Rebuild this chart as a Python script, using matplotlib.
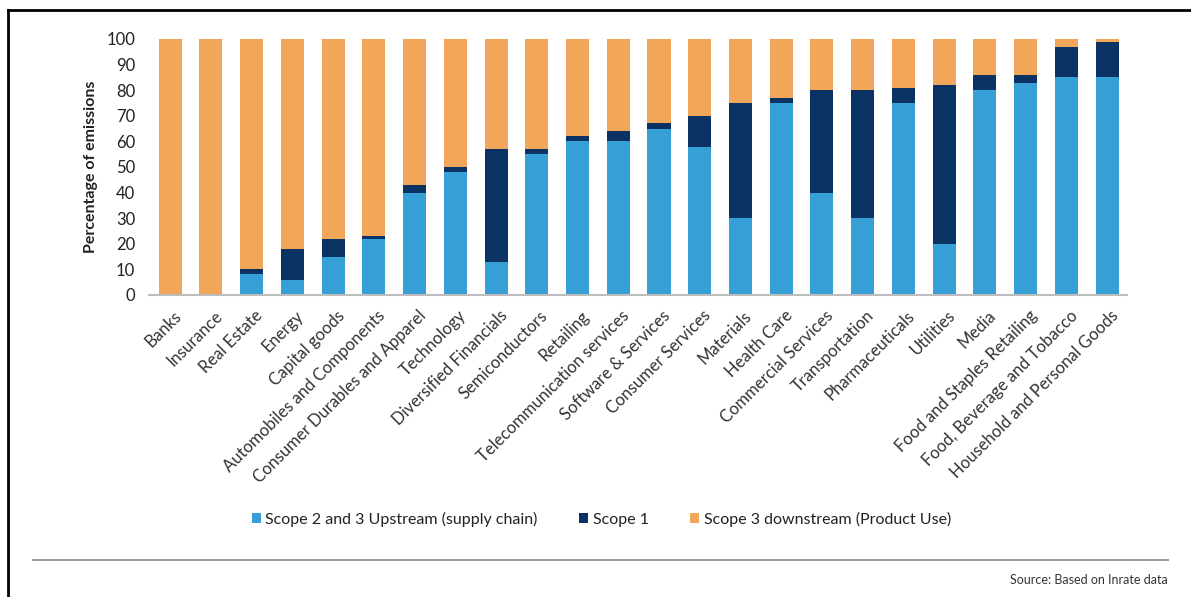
import matplotlib.pyplot as plt
import numpy as np
from matplotlib.lines import Line2D
from matplotlib.transforms import ScaledTranslation

plt.rcParams['font.family'] = ['Lato', 'DejaVu Sans']

sectors = ["Banks", "Insurance", "Real Estate", "Energy", "Capital goods",
           "Automobiles and Components", "Consumer Durables and Apparel",
           "Technology", "Diversified Financials", "Semiconductors", "Retailing",
           "Telecommunication services", "Software & Services",
           "Consumer Services", "Materials", "Health Care",
           "Commercial Services", "Transportation", "Pharmaceuticals",
           "Utilities", "Media", "Food and Staples Retailing",
           "Food, Beverage and Tobacco", "Household and Personal Goods"]
upstream = [0, 0, 8, 6, 15, 22, 40, 48, 13, 55, 60, 60, 65, 58, 30, 75, 40,
            30, 75, 20, 80, 83, 85, 85]
scope1 = [0, 0, 2, 12, 7, 1, 3, 2, 44, 2, 2, 4, 2, 12, 45, 2, 40, 50, 6, 62,
          6, 3, 12, 14]
downstream = [100 - u - s for u, s in zip(upstream, scope1)]

c_up = "#359fd6"
c_s1 = "#0a3262"
c_down = "#f2a65a"

fig = plt.figure(figsize=(11.91, 5.97), dpi=100)
ax = fig.add_axes([0.1251, 0.5059, 0.8212, 0.4288])

x = np.arange(len(sectors))
w = 0.565
ax.bar(x, upstream, w, color=c_up, label="Scope 2 and 3 Upstream (supply chain)")
ax.bar(x, scope1, w, bottom=upstream, color=c_s1, label="Scope 1")
ax.bar(x, downstream, w, bottom=np.add(upstream, scope1), color=c_down,
       label="Scope 3 downstream (Product Use)")

ax.set_xlim(-0.52, 23.49)
ax.set_ylim(0, 100)
ax.set_yticks(range(0, 101, 10))
ax.tick_params(axis='y', length=0, labelsize=12, labelcolor="#222222", pad=10)
ax.tick_params(axis='x', length=0, labelsize=12, labelcolor="#333333", pad=9)
ax.set_xticks(x)
ax.set_xticklabels(sectors, rotation=45, ha='right', rotation_mode='anchor')
shift = ScaledTranslation(3 / 100, 0, fig.dpi_scale_trans)
for lab in ax.get_xticklabels():
    lab.set_transform(lab.get_transform() + shift)
for s in ["top", "right", "left"]:
    ax.spines[s].set_visible(False)
ax.spines["bottom"].set_color("#bdbdbd")
ax.spines["bottom"].set_linewidth(1.5)
ax.set_ylabel("Percentage of emissions", fontsize=11.5, fontweight='bold',
              color="#222222", labelpad=6)

leg = fig.legend(loc='center', bbox_to_anchor=(0.505, 1 - 519 / 597), ncol=3,
                 frameon=False, fontsize=11.5, handlelength=0.55, handleheight=0.55,
                 handletextpad=0.3, columnspacing=2.6)
for t in leg.get_texts():
    t.set_color("#222222")

# separator and source
fig.add_artist(Line2D([33 / 1191, 1168 / 1191], [1 - 560 / 597, 1 - 560 / 597],
                      color="#9e9e9e", lw=1.5))
fig.text(1168 / 1191, 1 - 580 / 597, "Source: Based on Inrate data",
         ha='right', va='center', fontsize=9, color="#333333")

# outer frame
fig.add_artist(Line2D([8 / 1191, 8 / 1191], [0, 1 - 10 / 597], color="black", lw=2))
fig.add_artist(Line2D([8 / 1191, 1], [1 - 10 / 597, 1 - 10 / 597], color="black", lw=2))

fig.savefig("out.png", dpi=100)
